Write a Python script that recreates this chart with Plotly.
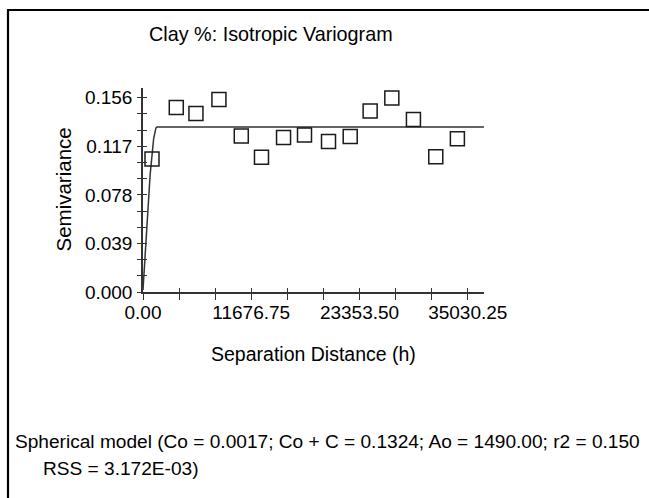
import numpy as np
import plotly.graph_objects as go

# ---------------- data ----------------
lag_distance = [970, 3590, 5710, 8190, 10600, 12780, 15160, 17420, 20010,
                22350, 24500, 26840, 29170, 31580, 33910]
semivariance = [0.1068, 0.1482, 0.1434, 0.1546, 0.1252, 0.1081, 0.1241, 0.1260,
                0.1209, 0.1249, 0.1454, 0.1558, 0.1385, 0.1086, 0.1230]

# spherical model parameters (as stated on the chart)
NUGGET_CO = 0.0017
SILL_CO_C = 0.1324
RANGE_AO = 1490.00

x_tick_vals = [0, 3892.25, 7784.5, 11676.75, 15569.0, 19461.25, 23353.5,
               27245.75, 31138.0, 35030.25]
x_tick_text = ["0.00", "", "", "11676.75", "", "", "23353.50", "", "", "35030.25"]
y_tick_vals = [0, 0.013, 0.026, 0.039, 0.052, 0.065, 0.078, 0.091, 0.104,
               0.117, 0.130, 0.143, 0.156]
y_tick_text = ["0.000", "", "", "0.039", "", "", "0.078", "", "", "0.117", "", "", "0.156"]

X_MAX = 36781.8
Y_MAX = 0.1638

title_text = "Clay %: Isotropic Variogram"
x_title = "Separation Distance (h)"
y_title = "Semivariance"
model_line1 = "Spherical model (Co = 0.0017; Co + C = 0.1324; Ao = 1490.00; r2 = 0.150"
model_line2 = "RSS = 3.172E-03)"

# ---------------- model curve ----------------
h = np.concatenate([np.linspace(0, RANGE_AO, 60), [X_MAX]])
psill = SILL_CO_C - NUGGET_CO
r = np.clip(h / RANGE_AO, 0, 1)
gamma = NUGGET_CO + psill * (1.5 * r - 0.5 * r ** 3)

# ---------------- layout geometry ----------------
W, H = 649, 498
L, R, T, B = 143, 165, 88, 206
PW, PH = W - L - R, H - T - B


def pxx(px):
    return (px - L) / PW


def pxy(py):
    return (H - B - py) / PH


FONT = "Liberation Sans, Arial, sans-serif"
FS = 19
INK = "#000000"
AX = "#333333"

fig = go.Figure()
fig.add_trace(go.Scatter(x=h, y=gamma, mode="lines",
                         line=dict(color="#333333", width=1.5),
                         hoverinfo="skip", showlegend=False))
fig.add_trace(go.Scatter(x=lag_distance, y=semivariance, mode="markers",
                         marker=dict(symbol="square-open", size=14, color="#1a1a1a",
                                     line=dict(width=1.5)),
                         showlegend=False))
# dummy trace to create overlay axes (for inward tick halves)
fig.add_trace(go.Scatter(x=[None], y=[None], xaxis="x2", yaxis="y2",
                         showlegend=False, hoverinfo="skip"))

fig.update_layout(
    width=W, height=H,
    margin=dict(l=L, r=R, t=T, b=B, pad=0),
    paper_bgcolor="white", plot_bgcolor="white",
    font=dict(family=FONT, size=FS, color=INK),
    xaxis=dict(range=[0, X_MAX], showline=True, linecolor=AX, linewidth=1.5,
               showgrid=False, zeroline=False, ticks="outside", ticklen=6,
               tickwidth=1.2, tickcolor=AX, tickvals=x_tick_vals, ticktext=x_tick_text,
               tickfont=dict(size=FS, color=INK), ticklabelstandoff=-4),
    yaxis=dict(range=[0, Y_MAX], showline=True, linecolor=AX, linewidth=1.5,
               showgrid=False, zeroline=False, ticks="outside", ticklen=4,
               tickwidth=1.2, tickcolor=AX, tickvals=y_tick_vals, ticktext=y_tick_text,
               tickfont=dict(size=FS, color=INK), ticklabelstandoff=1),
    xaxis2=dict(range=[0, X_MAX], overlaying="x", anchor="y2", showline=False,
                showgrid=False, zeroline=False, ticks="inside", ticklen=4,
                tickwidth=1.2, tickcolor=AX, tickvals=x_tick_vals,
                showticklabels=False, side="bottom"),
    yaxis2=dict(range=[0, Y_MAX], overlaying="y", anchor="x2", showline=False,
                showgrid=False, zeroline=False, ticks="inside", ticklen=4,
                tickwidth=1.2, tickcolor=AX, tickvals=y_tick_vals,
                showticklabels=False, side="left"),
)

ann = []
ann.append(dict(text=title_text, x=pxx(270.5), y=pxy(34), xref="paper", yref="paper",
                xanchor="center", yanchor="middle", showarrow=False,
                font=dict(size=19.8, family=FONT, color=INK)))
ann.append(dict(text=x_title, x=pxx(313.5), y=pxy(354), xref="paper", yref="paper",
                xanchor="center", yanchor="middle", showarrow=False,
                font=dict(size=19.5, family=FONT, color=INK)))
ann.append(dict(text=y_title, x=pxx(62.5), y=pxy(190), xref="paper", yref="paper",
                xanchor="center", yanchor="middle", textangle=-90, showarrow=False,
                font=dict(size=20.5, family=FONT, color=INK)))
ann.append(dict(text=model_line1, x=pxx(12.5), y=pxy(441), xref="paper", yref="paper",
                xanchor="left", yanchor="middle", showarrow=False,
                font=dict(size=19.1, family=FONT, color=INK)))
ann.append(dict(text=model_line2, x=pxx(40.5), y=pxy(468), xref="paper", yref="paper",
                xanchor="left", yanchor="middle", showarrow=False,
                font=dict(size=19.1, family=FONT, color=INK)))
fig.update_layout(annotations=ann)

# outer frame (left and top edges visible in the reference)
fig.add_shape(type="line", xref="paper", yref="paper", x0=pxx(8), x1=pxx(8),
              y0=pxy(10), y1=pxy(510), line=dict(color="#000000", width=2.2))
fig.add_shape(type="line", xref="paper", yref="paper", x0=pxx(7), x1=pxx(660),
              y0=pxy(10), y1=pxy(10), line=dict(color="#000000", width=2.2))

fig.write_html("out.html",
               config={"displayModeBar": False},
               post_script="document.body.style.margin='0';"
                           "document.body.style.overflow='hidden';")
